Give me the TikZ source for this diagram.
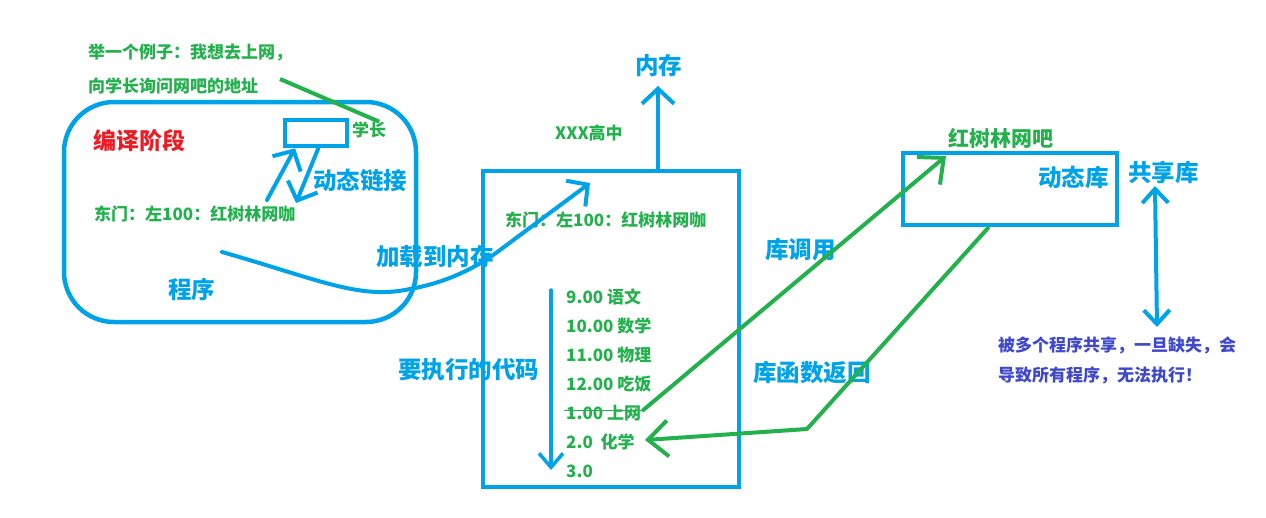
\documentclass[tikz,border=0pt]{standalone}
\usepackage{fontspec}
\setmainfont{Noto Sans CJK SC}
\usetikzlibrary{arrows.meta}
\definecolor{cblue}{HTML}{00A2E8}
\definecolor{cgreen}{HTML}{22B14C}
\definecolor{cred}{HTML}{ED1C24}
\definecolor{cpurple}{HTML}{3F48CC}
\tikzset{
  blab/.style={text=cblue, font=\bfseries\fontsize{23.5}{25}\selectfont, anchor=west, inner sep=0pt},
  glab/.style={text=cgreen, font=\bfseries\fontsize{17}{19}\selectfont, anchor=west, inner sep=0pt},
  plab/.style={text=cpurple, font=\bfseries\fontsize{17}{19}\selectfont, anchor=west, inner sep=0pt},
  bbox/.style={draw=cblue, line width=4.5pt, inner sep=0pt},
  barr/.style={draw=cblue, line width=4pt, line cap=round, line join=round, -{Straight Barb[length=15pt,width=32pt]}},
  garr/.style={draw=cgreen, line width=4pt, line cap=round, line join=round, -{Straight Barb[length=20pt,width=36pt]}},
}
\begin{document}
\begin{tikzpicture}[x=1pt,y=-1pt]
\useasboundingbox (0,0) rectangle (1266,517);
% boxes
\node[bbox, rounded corners=50pt, minimum width=352pt, minimum height=220pt] (prog) at (240,212) {};
\node[bbox, minimum width=62pt, minimum height=26pt] (sbox) at (316,133) {};
\node[bbox, minimum width=256pt, minimum height=316pt] (mem) at (611,329) {};
\node[bbox, minimum width=214pt, minimum height=72pt] (lib) at (1010,189) {};
% texts left
\node[glab] (ex1) at (88,52) {举一个例子：我想去上网，};
\node[glab] (ex2) at (88,86) {向学长询问网吧的地址};
\node[text=cred, font=\bfseries\fontsize{23}{25}\selectfont, anchor=west, inner sep=0pt] (compile) at (93,141) {编译阶段};
\node[glab] (senior) at (352,130) {学长};
\node[blab] (dlink) at (313,180) {动态链接};
\node[glab] (addr1) at (94,214) {东门：左100：红树林网咖};
\node[blab] (progl) at (168,290) {程序};
\node[blab] (load) at (376,257) {加载到内存};
% memory
\node[blab] (neicun) at (635,66) {内存};
\node[glab] (school) at (555,133) {XXX高中};
\node[glab] (addr2) at (505,220) {东门：左100：红树林网咖};
\node[glab] (i1) at (566,297) {9.00 语文};
\node[glab] (i2) at (566,326) {10.00 数学};
\node[glab] (i3) at (566,355) {11.00 物理};
\node[glab] (i4) at (566,384) {12.00 吃饭};
\node[glab] (i5) at (566,413) {1.00 上网};
\node[glab] (i6) at (566,442) {2.0 \ 化学};
\node[glab] (i7) at (566,471) {3.0};
\node[blab] (code) at (398,370) {要执行的代码};
% right
\node[blab] (call) at (765,250) {库调用};
\node[blab] (ret) at (753,373) {库函数返回};
\node[text=cgreen, font=\bfseries\fontsize{21}{23}\selectfont, anchor=west, inner sep=0pt] (bar) at (948,138) {红树林网吧};
\node[blab] (dlib) at (1038,177) {动态库};
\node[blab] (share) at (1128,173) {共享库};
\node[plab] (note1) at (998,345) {被多个程序共享，一旦缺失，会};
\node[plab] (note2) at (998,375) {导致所有程序，无法执行！};
% coordinates
\coordinate (up1s) at (267,200);
\coordinate (dn1s) at (318,149);
\coordinate (dn1e) at (296,203);
\coordinate (loadS) at (222,252);
\coordinate (loadE) at (590,183);
\coordinate (memTop) at (658,171);
\coordinate (memTip) at (658,86);
\coordinate (codeS) at (551,290);
\coordinate (codeE) at (551,470);
\coordinate (callE) at (946,156);
\coordinate (retS) at (988,228);
\coordinate (retM) at (807,429);
\coordinate (retE) at (645,440);
\coordinate (shT) at (1155,186);
\coordinate (shB) at (1157,327);
\coordinate (exS) at (280,79);
% connectors
\draw[cgreen, line width=4pt] (exS) -- ([xshift=10pt]senior.north);
\draw[barr] (up1s) -- (sbox.south -| 295,0);
\draw[barr] (dn1s) -- (dn1e);
\draw[barr] (loadS) .. controls (320,280) and (360,300) .. (410,289) .. controls (450,282) and (480,265) .. (500,250) -- (loadE);
\draw[barr] (memTop) -- (memTip);
\draw[draw=cblue, line width=3.5pt, line cap=round, -{Straight Barb[length=14pt,width=24pt]}] (codeS) -- (codeE);
\draw[cgreen, line width=1pt] ([xshift=-2pt,yshift=3pt]i5.west) -- ([xshift=2pt,yshift=3pt]i5.east);
\draw[garr] ([xshift=2pt,yshift=3pt]i5.east) -- (callE);
\draw[garr] (retS) -- (retM) -- (retE);
\draw[draw=cblue, line width=4pt, line cap=round, {Straight Barb[length=14pt,width=26pt]}-{Straight Barb[length=14pt,width=26pt]}] (shT) -- (shB);
\end{tikzpicture}
\end{document}
